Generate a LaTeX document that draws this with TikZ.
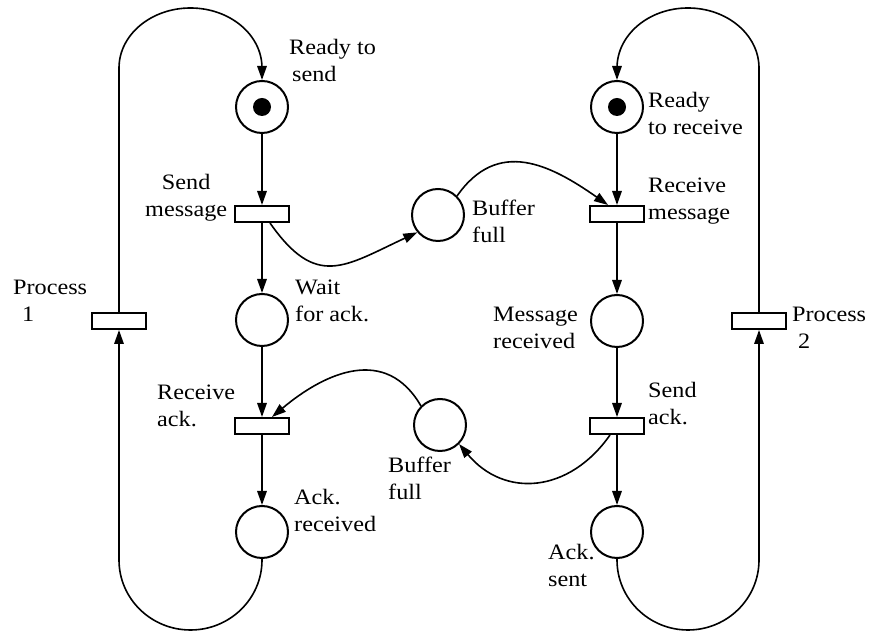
\documentclass[tikz,border=0pt]{standalone}
\usepackage{fontspec}
\setmainfont{Liberation Serif}[FakeStretch=1.1]
\usetikzlibrary{arrows.meta}
\begin{document}
\begin{tikzpicture}[x=1pt,y=1pt,
  place/.style={circle, draw, line width=2pt, minimum size=52pt, inner sep=0pt},
  trans/.style={rectangle, draw, line width=2pt, minimum width=54pt, minimum height=16pt, inner sep=0pt},
  arc/.style={line width=1.6pt, -{Triangle[length=14pt,width=9.5pt]}},
  lbl/.style={anchor=base west, inner sep=0pt, font=\fontsize{22}{26.5}\selectfont},
  token/.style={circle, fill, minimum size=18pt, inner sep=0pt}]
\useasboundingbox (0,0) rectangle (870,631);
% left process
\node[place] (rts) at (262,524) {};
\node[token] (tok1) at (rts) {};
\node[trans] (sm) at (262,417) {};
\node[place] (wfa) at (262,311) {};
\node[trans] (ra) at (262,205) {};
\node[place] (ar) at (262,99) {};
\node[trans] (p1) at (119,310) {};
% right process
\node[place] (rtr) at (617,524) {};
\node[token] (tok2) at (rtr) {};
\node[trans] (rm) at (617,417) {};
\node[place] (mr) at (617,310) {};
\node[trans] (sa) at (617,205) {};
\node[place] (as) at (617,99) {};
\node[trans] (p2) at (759,310) {};
% buffers
\node[place] (bf1) at (438,416) {};
\node[place] (bf2) at (440,206) {};
% straight arcs
\draw[arc] (rts) -- (sm);
\draw[arc] (sm) -- (wfa);
\draw[arc] (wfa) -- (ra);
\draw[arc] (ra) -- (ar);
\draw[arc] (rtr) -- (rm);
\draw[arc] (rm) -- (mr);
\draw[arc] (mr) -- (sa);
\draw[arc] (sa) -- (as);
% loops
\draw[arc] (p1.north) -- (119,563) arc[start angle=180,end angle=0,x radius=71.5,y radius=60] -- (rts.north);
\draw[arc] (ar.south) -- ++(0,-1) arc[start angle=0,end angle=-180,x radius=71.5,y radius=70] -- (p1.south);
\draw[arc] (p2.north) -- (759,563) arc[start angle=0,end angle=180,x radius=71,y radius=60] -- (rtr.north);
\draw[arc] (as.south) -- ++(0,-1) arc[start angle=180,end angle=360,x radius=71,y radius=70] -- (p2.south);
% buffer arcs
\draw[arc] ([xshift=8pt]sm.south) to[out=-55,in=205,looseness=1.4] (bf1.220);
\draw[arc] (bf1.45) to[out=55,in=145,looseness=1.2] ([xshift=-9pt]rm.north);
\draw[arc] (bf2.135) to[out=120,in=40,looseness=1.2] ([xshift=10pt]ra.north);
\draw[arc] ([xshift=-7pt]sa.south) to[out=-125,in=-50,looseness=1.2] (bf2.-45);
% labels
\node[lbl] (lrts) at (289,576) {\begin{tabular}[t]{@{}l@{}}Ready to\\\hspace{3pt}send\end{tabular}};
\node[lbl] (lsm) at (145,441) {\begin{tabular}[t]{@{}c@{}}Send\\message\end{tabular}};
\node[lbl] (lwfa) at (295,336) {\begin{tabular}[t]{@{}l@{}}Wait\\for ack.\end{tabular}};
\node[lbl] (lp1) at (13,336) {\begin{tabular}[t]{@{}l@{}}Process\\\hspace{9pt}1\end{tabular}};
\node[lbl] (lra) at (157,231) {\begin{tabular}[t]{@{}l@{}}Receive\\ack.\end{tabular}};
\node[lbl] (lar) at (294,126) {\begin{tabular}[t]{@{}l@{}}Ack.\\received\end{tabular}};
\node[lbl] (lbf1) at (472,415) {\begin{tabular}[t]{@{}l@{}}Buffer\\full\end{tabular}};
\node[lbl] (lbf2) at (388,158) {\begin{tabular}[t]{@{}l@{}}Buffer\\full\end{tabular}};
\node[lbl] (lrtr) at (648,523) {\begin{tabular}[t]{@{}l@{}}Ready\\to receive\end{tabular}};
\node[lbl] (lrm) at (648,438) {\begin{tabular}[t]{@{}l@{}}Receive\\message\end{tabular}};
\node[lbl] (lmr) at (493,309) {\begin{tabular}[t]{@{}l@{}}Message\\received\end{tabular}};
\node[lbl] (lp2) at (792,309) {\begin{tabular}[t]{@{}l@{}}Process\\\hspace{6pt}2\end{tabular}};
\node[lbl] (lsa) at (648,233) {\begin{tabular}[t]{@{}l@{}}Send\\ack.\end{tabular}};
\node[lbl] (las) at (548,71) {\begin{tabular}[t]{@{}l@{}}Ack.\\sent\end{tabular}};
\end{tikzpicture}
\end{document}
